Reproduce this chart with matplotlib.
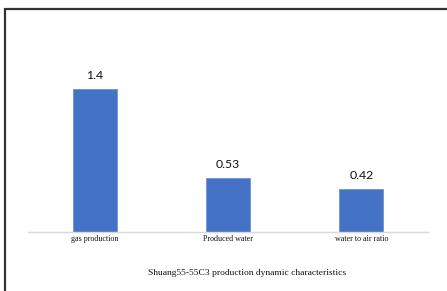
import matplotlib.pyplot as plt
from matplotlib.patches import Rectangle

categories = ["gas production", "Produced water", "water to air ratio"]
values = [1.4, 0.53, 0.42]
value_labels = ["1.4", "0.53", "0.42"]
title = "Shuang55-55C3 production dynamic characteristics"

W, H = 447, 291
fig = plt.figure(figsize=(W / 100, H / 100), dpi=100)

# outer frame (only left and top edge visible in the reference)
fig.patches.append(Rectangle((5 / W, -0.1), 1.2, 1 - 9 / H + 0.1,
                             transform=fig.transFigure, fill=False,
                             edgecolor="#333333", linewidth=1.6))

ax = fig.add_axes([28 / W, 59 / H, 400 / W, 163.4 / H])
x = range(len(categories))
bars = ax.bar(x, values, width=0.33, color="#4472C4", edgecolor="#6f93d6", linewidth=0.6)
ax.set_xlim(-0.5, len(categories) - 0.5)
ax.set_ylim(0, 1.6)

for b, lab in zip(bars, value_labels):
    ax.annotate(lab, (b.get_x() + b.get_width() / 2, b.get_height()),
                xytext=(0, 5.5), textcoords="offset points", ha="center", va="bottom",
                fontsize=8.8, family="Lato", color="#111111")

for s in ["top", "right", "left"]:
    ax.spines[s].set_visible(False)
ax.spines["bottom"].set_color("#d9d9d9")
ax.spines["bottom"].set_linewidth(1.0)
ax.set_yticks([])
ax.set_xticks(list(x))
ax.set_xticklabels(categories, family="Liberation Serif", fontsize=5.8, color="#111111")
ax.tick_params(axis="x", length=0, pad=2.5)

fig.text(247.5 / W, 1 - 273 / H, title, ha="center", va="center",
         family="Liberation Serif", fontsize=6.8, color="#111111")

fig.savefig("out.png", dpi=100)
